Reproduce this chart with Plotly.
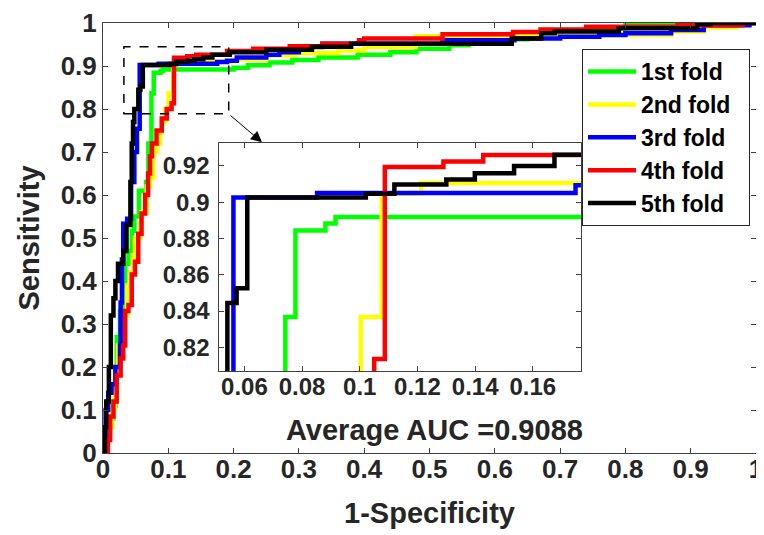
import plotly.graph_objects as go

# ---------------- data ----------------
fold_names = ["1st fold", "2nd fold", "3rd fold", "4th fold", "5th fold"]
fold_colors = ["#00FF00", "#FFFF00", "#0000FF", "#FF0000", "#000000"]

fpr_1 = [0, 0.004, 0.008, 0.016, 0.019, 0.021, 0.026, 0.030, 0.034, 0.039, 0.044, 0.048, 0.055, 0.066, 0.0695,
         0.0742, 0.0777, 0.0881, 0.0916, 0.20, 0.222, 0.255, 0.29, 0.33, 0.39, 0.44, 0.48, 0.53, 0.56, 0.60,
         0.65, 0.70, 0.743, 0.80, 0.86, 1.0]
tpr_1 = [0, 0.05, 0.08, 0.11, 0.20, 0.27, 0.33, 0.39, 0.44, 0.47, 0.517, 0.55, 0.61, 0.63, 0.72,
         0.8367, 0.8844, 0.8882, 0.8919, 0.896, 0.902, 0.908, 0.914, 0.92, 0.926, 0.932, 0.94, 0.948, 0.955, 0.962,
         0.972, 0.98, 0.988, 0.995, 1.0, 1.0]

fpr_2 = [0, 0.006, 0.008, 0.014, 0.018, 0.021, 0.023, 0.029, 0.037, 0.042, 0.046, 0.049, 0.057, 0.059, 0.067,
         0.072, 0.077, 0.082, 0.087, 0.090, 0.095, 0.1003, 0.1076, 0.1213, 0.20, 0.25, 0.296, 0.36, 0.40, 0.479,
         0.636, 0.87, 0.92, 0.97, 1.0]
tpr_2 = [0, 0.03, 0.06, 0.10, 0.14, 0.20, 0.25, 0.32, 0.39, 0.42, 0.455, 0.50, 0.533, 0.56, 0.62,
         0.64, 0.70, 0.72, 0.746, 0.77, 0.80, 0.8367, 0.9046, 0.9106, 0.915, 0.925, 0.93, 0.936, 0.944, 0.969,
         0.972, 0.98, 0.99, 1.0, 1.0]

fpr_3 = [0, 0, 0.004, 0.008, 0.013, 0.019, 0.026, 0.027, 0.029, 0.031, 0.037, 0.043, 0.048, 0.052, 0.0562,
         0.0852, 0.1748, 0.19, 0.205, 0.25, 0.27, 0.30, 0.336, 0.52, 0.63, 0.70, 0.76, 0.80, 0.87, 0.92, 0.99, 1.0]
tpr_3 = [0, 0.03, 0.10, 0.14, 0.16, 0.20, 0.25, 0.35, 0.45, 0.533, 0.545, 0.63, 0.70, 0.754, 0.9026,
         0.905, 0.9093, 0.912, 0.92, 0.926, 0.932, 0.944, 0.952, 0.96, 0.964, 0.968, 0.972, 0.976, 0.984, 0.995, 1.0, 1.0]

fpr_4 = [0, 0.0076, 0.011, 0.016, 0.021, 0.027, 0.031, 0.034, 0.039, 0.044, 0.049, 0.054, 0.059, 0.0645, 0.069,
         0.072, 0.075, 0.082, 0.090, 0.0976, 0.105, 0.1087, 0.129, 0.1428, 0.19, 0.23, 0.286, 0.336, 0.392, 0.40,
         0.52, 0.628, 0.67, 0.74, 0.88, 0.98, 1.0]
tpr_4 = [0, 0.03, 0.085, 0.12, 0.18, 0.22, 0.25, 0.33, 0.344, 0.415, 0.445, 0.51, 0.557, 0.60, 0.65,
         0.69, 0.72, 0.75, 0.778, 0.80, 0.8136, 0.9194, 0.9224, 0.926, 0.935, 0.94, 0.946, 0.952, 0.96, 0.964,
         0.974, 0.979, 0.985, 0.991, 0.995, 1.0, 1.0]

fpr_5 = [0, 0.003, 0.005, 0.009, 0.012, 0.016, 0.019, 0.023, 0.031, 0.036, 0.042, 0.044, 0.046, 0.048, 0.0541,
         0.0573, 0.061, 0.1021, 0.112, 0.130, 0.1399, 0.1535, 0.1675, 0.194, 0.25, 0.32, 0.38, 0.626, 0.671, 0.692,
         0.79, 0.91, 0.93, 1.0]
tpr_5 = [0, 0.06, 0.12, 0.20, 0.32, 0.36, 0.40, 0.44, 0.47, 0.53, 0.63, 0.72, 0.77, 0.80, 0.8445,
         0.8526, 0.9026, 0.9046, 0.9097, 0.9125, 0.9159, 0.92, 0.9262, 0.932, 0.938, 0.945, 0.952, 0.964, 0.976, 0.98,
         0.988, 0.997, 1.0, 1.0]

fprs = [fpr_1, fpr_2, fpr_3, fpr_4, fpr_5]
tprs = [tpr_1, tpr_2, tpr_3, tpr_4, tpr_5]

main_ticks = [0, 0.1, 0.2, 0.3, 0.4, 0.5, 0.6, 0.7, 0.8, 0.9, 1]
main_ticktext = ["0", "0.1", "0.2", "0.3", "0.4", "0.5", "0.6", "0.7", "0.8", "0.9", "1"]
inset_xticks = [0.06, 0.08, 0.10, 0.12, 0.14, 0.16]
inset_xticktext = ["0.06", "0.08", "0.1", "0.12", "0.14", "0.16"]
inset_yticks = [0.82, 0.84, 0.86, 0.88, 0.90, 0.92]
inset_yticktext = ["0.82", "0.84", "0.86", "0.88", "0.9", "0.92"]
inset_xrange = [0.0513, 0.1767]
inset_yrange = [0.8067, 0.9325]
zoom_box = dict(x0=0.032, x1=0.1925, y0=0.789, y1=0.945)
auc_text = "Average AUC =0.9088"

# ---------------- figure ----------------
FONT = "Liberation Sans, Arial, sans-serif"
TXT = "#262626"
PAD = "\u00a0\u00a0"  # a little right padding inside the legend box
fig = go.Figure()

for name, col, fx, ty in zip(fold_names, fold_colors, fprs, tprs):
    fig.add_trace(go.Scatter(x=fx, y=ty, mode="lines", name=name + PAD,
                             line=dict(color=col, width=4.5, shape="hv"), xaxis="x", yaxis="y"))
for name, col, fx, ty in zip(fold_names, fold_colors, fprs, tprs):
    fig.add_trace(go.Scatter(x=fx, y=ty, mode="lines", name=name, showlegend=False,
                             line=dict(color=col, width=4.5, shape="hv"), xaxis="x2", yaxis="y2"))

axis_common = dict(showgrid=False, zeroline=False, showline=True, linecolor="#404040", linewidth=1,
                   mirror="ticks", ticks="inside", ticklen=5, tickcolor="#404040", automargin=False,
                   ticklabeloverflow="allow")

# the page body adds an 8px offset, so the figure is 8px smaller on each axis
fig.update_layout(
    width=756, height=527,
    margin=dict(l=95, r=8, t=15, b=82),
    paper_bgcolor="white", plot_bgcolor="white",
    font=dict(family=FONT, color=TXT),
    xaxis=dict(range=[0, 1], domain=[0, 1], tickvals=main_ticks, ticktext=main_ticktext,
               tickfont=dict(size=26, weight="bold", color=TXT), ticklabelstandoff=-7,
               title=dict(text="1-Specificity", font=dict(size=29, weight="bold", color=TXT), standoff=19),
               **axis_common),
    yaxis=dict(range=[0, 1], domain=[0, 1], tickvals=main_ticks, ticktext=main_ticktext,
               tickfont=dict(size=26, weight="bold", color=TXT),
               title=dict(text="Sensitivity", font=dict(size=29, weight="bold", color=TXT), standoff=12),
               **axis_common),
    xaxis2=dict(range=inset_xrange, domain=[0.1781, 0.732], anchor="y2", tickvals=inset_xticks,
                ticktext=inset_xticktext, tickfont=dict(size=24, weight="bold", color=TXT),
                ticklabelstandoff=-6, **axis_common),
    yaxis2=dict(range=inset_yrange, domain=[0.1896, 0.7204], anchor="x2", tickvals=inset_yticks,
                ticktext=inset_yticktext, tickfont=dict(size=24, weight="bold", color=TXT),
                ticklabelstandoff=4, **axis_common),
    legend=dict(x=0.7335, y=0.9394, xanchor="left", yanchor="top", bgcolor="white",
                bordercolor="#262626", borderwidth=1, font=dict(size=23, weight="bold", color="black"),
                itemwidth=48, tracegroupgap=0),
    showlegend=True,
)

fig.add_shape(type="rect", xref="x", yref="y", x0=zoom_box["x0"], x1=zoom_box["x1"],
              y0=zoom_box["y0"], y1=zoom_box["y1"], line=dict(color="black", width=1.5, dash="dash"))

fig.add_annotation(xref="paper", yref="paper", x=0.2435, y=0.7227, ax=-33, ay=-28, axref="pixel", ayref="pixel",
                   text="", showarrow=True, arrowhead=2, arrowsize=2.2, arrowwidth=1, arrowcolor="black")

fig.add_annotation(xref="paper", yref="paper", x=0.5084, y=0.0545, text=auc_text, showarrow=False,
                   font=dict(size=29, weight="bold", color=TXT), xanchor="center", yanchor="middle")

fig.write_html("out.html")
